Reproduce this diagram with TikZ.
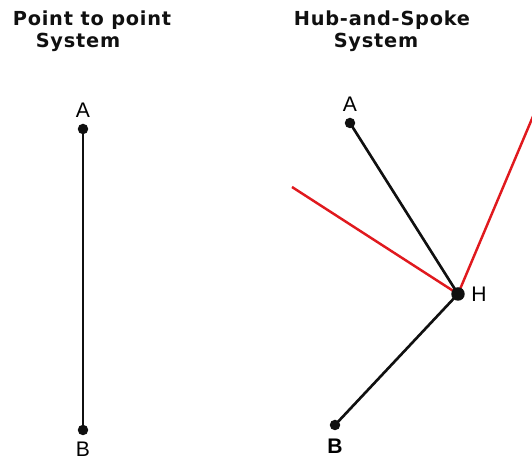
\documentclass[tikz,border=0pt]{standalone}
\usepackage{fontspec}
\setmainfont{Liberation Sans}
\newfontfamily\headfont{DejaVu Sans}[LetterSpace=4]
\usepackage{tikz}
\usepackage{xcolor}
\usetikzlibrary{positioning, backgrounds}
\definecolor{spoke}{HTML}{E0191E}
\definecolor{ink}{HTML}{101010}

\begin{document}
\begin{tikzpicture}[x=0.02cm, y=-0.02cm, font=\fontsize{12}{14}\selectfont,
    stop/.style={circle, fill=ink, inner sep=0pt, minimum size=0.21cm},
    hub/.style={circle, fill=ink, inner sep=0pt, minimum size=0.27cm},
    leg/.style={draw=ink, line width=1.5pt},
    newleg/.style={draw=spoke, line width=1.4pt},
    head/.style={font=\headfont\bfseries\fontsize{11}{13}\selectfont, text=ink}]
    \useasboundingbox (0,0) rectangle (532,462);
    % titles
    \node[head] (t1) at (92,20) {Point to point};
    \node[head] (t2) at (78,42) {System};
    \node[head] (t3) at (382,20) {Hub-and-Spoke};
    \node[head] (t4) at (376,42) {System};
    % point to point
    \node[stop] (pa) at (83,129) {};
    \node[stop] (pb) at (83,430) {};
    \node[above=0pt of pa] (la) {A};
    \node[below=0pt of pb] (lb) {B};
    % hub and spoke
    \node[stop] (ha) at (350,123) {};
    \node[hub] (hh) at (458,294) {};
    \node[stop] (hb) at (335,425) {};
    \coordinate (rw) at (292,187);
    \coordinate (re) at (534,114);
    \node[above=0pt of ha] (lha) {A};
    \node[right=0pt of hh] (lhh) {H};
    \node[below=1pt of hb, font=\bfseries\fontsize{12}{14}\selectfont] (lhb) {B};
    % routes go under the dots
    \begin{scope}[on background layer]
      \draw[leg] (pa.center) -- (pb.center);
      \draw[newleg] (rw) -- (hh.center);
      \draw[newleg] (hh.center) -- (re);
      \draw[leg] (ha.center) -- (hh.center);
      \draw[leg] (hh.center) -- (hb.center);
    \end{scope}
  \end{tikzpicture}
\end{document}
